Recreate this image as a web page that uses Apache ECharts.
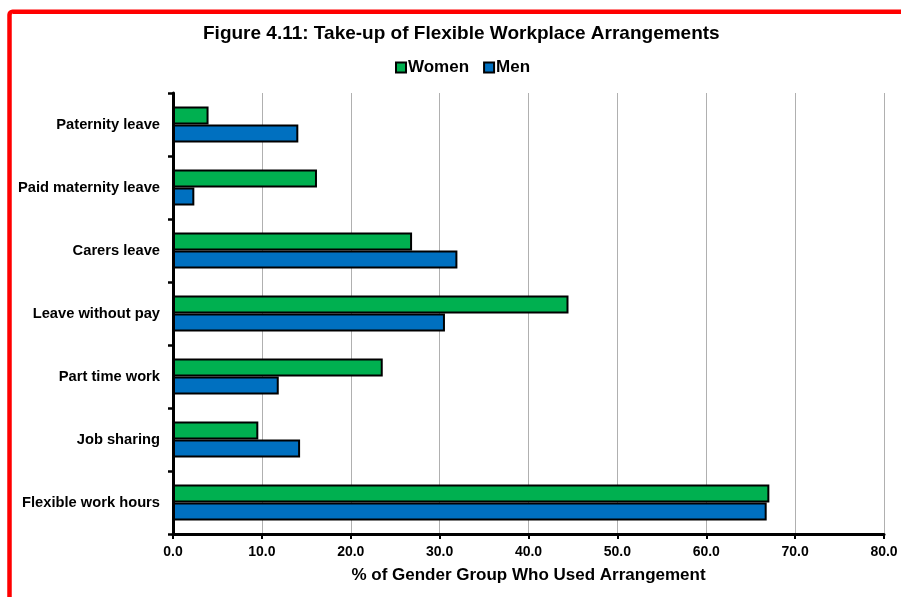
<!DOCTYPE html>
<html>
<head>
<meta charset="utf-8">
<script src="https://cdn.jsdelivr.net/npm/echarts@6/dist/echarts.min.js"></script>
<style>
html,body{margin:0;padding:0;background:#fff;}
#chart{width:901px;height:597px;}
</style>
</head>
<body>
<div id="chart"></div>
<script>
const categories = ["Paternity leave","Paid maternity leave","Carers leave","Leave without pay","Part time work","Job sharing","Flexible work hours"];
const women = [4.0, 16.2, 26.9, 44.5, 23.6, 9.6, 67.1];
const men = [14.1, 2.4, 32.0, 30.6, 11.9, 14.3, 66.8];
const xTicks = [0, 80, 10];

const FONT = "'Liberation Sans', Arial, sans-serif";
const chart = echarts.init(document.getElementById('chart'), null, {renderer:'canvas'});
chart.setOption({
  backgroundColor:'#ffffff',
  animation:false,
  textStyle:{fontFamily:FONT},
  title:{
    text:'Figure 4.11: Take-up of Flexible Workplace Arrangements',
    left:203, top:24, padding:0,
    textStyle:{fontFamily:FONT, fontWeight:'bold', fontSize:19, color:'#000'}
  },
  legend:{
    data:['Women','Men'],
    left:395, top:59, padding:0,
    itemWidth:10, itemHeight:10, itemGap:14,
    icon:'rect',
    textStyle:{fontFamily:FONT, fontWeight:'bold', fontSize:17, color:'#000', padding:[0,0,0,-3]}
  },
  grid:{left:173, right:17, top:93, bottom:63, containLabel:false},
  xAxis:{
    type:'value', min:xTicks[0], max:xTicks[1], interval:xTicks[2],
    name:'% of Gender Group Who Used Arrangement',
    nameLocation:'middle', nameGap:33,
    nameTextStyle:{fontFamily:FONT, fontWeight:'bold', fontSize:17, color:'#000'},
    axisLine:{show:true, lineStyle:{color:'#000', width:3}},
    axisTick:{show:true, length:5, lineStyle:{color:'#000', width:2}},
    axisLabel:{formatter:v=>v.toFixed(1), fontFamily:FONT, fontWeight:'bold', fontSize:14, color:'#000', margin:11},
    splitLine:{show:true, lineStyle:{color:'#b0b0b0', width:1}}
  },
  yAxis:{
    type:'category', data:categories, inverse:true,
    axisLine:{show:true, lineStyle:{color:'#000', width:3}},
    axisTick:{show:true, length:5, lineStyle:{color:'#000', width:2.5}},
    axisLabel:{fontFamily:FONT, fontWeight:'bold', fontSize:14.7, color:'#000', margin:13},
    splitLine:{show:false}
  },
  series:[
    {name:'Women', type:'bar', data:women, barWidth:18, barGap:'0%',
     itemStyle:{color:'#00B050', borderColor:'#000', borderWidth:2}},
    {name:'Men', type:'bar', data:men, barWidth:18, barGap:'0%',
     itemStyle:{color:'#0070C0', borderColor:'#000', borderWidth:2}}
  ],
  graphic:[{
    type:'rect', silent:true, z:100,
    shape:{x:9.5, y:11.8, width:1000, height:1000, r:3},
    style:{fill:'none', stroke:'#ff0000', lineWidth:4.5}
  }]
});
</script>
</body>
</html>
